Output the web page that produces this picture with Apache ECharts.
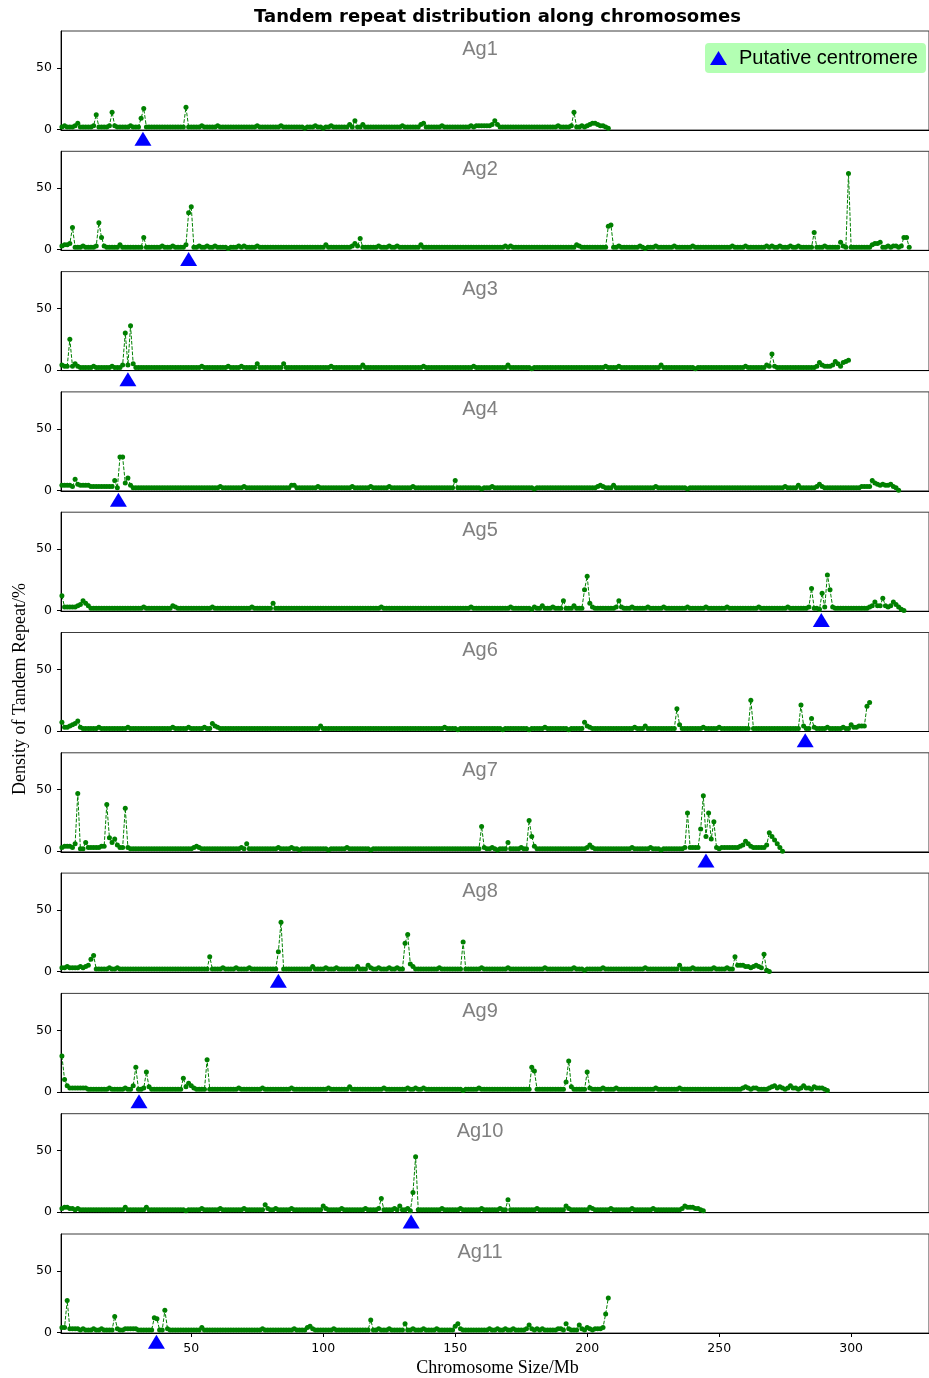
<!DOCTYPE html>
<html>
<head>
<meta charset="utf-8">
<title>Tandem repeat distribution along chromosomes</title>
<script src="https://cdn.jsdelivr.net/npm/echarts@6/dist/echarts.min.js"></script>
<style>
  html, body { margin: 0; padding: 0; background: #ffffff; }
  #chart { width: 929px; height: 1378px; }
</style>
</head>
<body>
<div id="chart"></div>
<script>
// Tandem repeat density (%) in 1 Mb bins; bin i sits at (i + 1) Mb.
const chromNames = ['Ag1', 'Ag2', 'Ag3', 'Ag4', 'Ag5', 'Ag6', 'Ag7', 'Ag8', 'Ag9', 'Ag10', 'Ag11'];

const Ag1 = [
  2,3,2,2,2,3,5,2,2,2, 2,2,3,12,2,2,2,2,3,14,
  3,2,2,2,2,2,3,2,2,2, 9,17,2,2,2,2,2,2,2,2,
  2,2,2,2,2,2,2,18,2,2, 2,2,2,3,2,2,2,2,2,3,
  2,2,2,2,2,2,2,2,2,2, 2,2,2,2,3,2,2,2,2,2,
  2,2,2,3,2,2,2,2,2,2, 2,2,1,2,2,2,3,2,2,1,
  2,2,3,2,2,2,2,2,2,4, 2,7,2,2,4,2,2,2,2,2,
  2,2,2,2,2,2,2,2,2,3, 2,2,2,2,2,2,4,5,2,2,
  2,2,2,2,3,2,2,2,2,2, 2,2,2,2,2,3,2,3,3,3,
  3,3,3,4,7,4,2,2,2,2, 2,2,2,2,2,2,2,2,2,2,
  2,2,2,2,2,2,2,2,3,2, 2,2,2,3,14,2,2,3,2,3,
  4,5,5,4,3,3,2,1
];

const Ag2 = [
  3,4,4,5,18,2,2,2,3,2, 2,2,2,3,22,10,3,2,2,2,
  2,2,4,2,2,2,2,2,2,2, 2,10,2,2,2,2,2,2,3,2,
  2,2,3,2,2,2,2,4,30,35, 2,2,3,2,2,3,2,2,3,2,
  2,2,2,1,2,2,2,3,2,3, 2,2,2,2,3,2,2,2,2,2,
  2,2,2,2,2,2,2,2,2,2, 2,2,2,2,2,2,2,2,2,2,
  4,2,2,2,2,2,2,2,2,2, 3,5,3,9,2,2,2,2,2,2,
  3,2,2,2,3,2,2,3,2,2, 2,2,2,2,2,2,4,2,2,2,
  2,2,2,2,2,2,2,2,2,2, 2,2,2,2,2,2,2,2,2,2,
  2,2,2,2,2,2,2,2,3,2, 3,2,2,2,2,2,2,2,2,2,
  2,2,2,2,2,2,2,2,2,2, 2,2,2,2,2,4,3,2,2,2,
  2,2,2,2,2,2,2,19,20,2, 2,3,2,2,2,2,2,2,2,3,
  2,1,2,2,2,3,2,2,2,2, 2,2,3,2,2,2,2,2,2,3,
  2,2,2,2,2,2,2,2,2,2, 2,2,2,2,3,2,2,2,2,3,
  2,2,2,2,2,2,2,3,2,3, 2,2,3,2,2,2,3,2,2,3,
  2,2,2,2,2,14,2,2,2,3, 2,2,2,2,2,6,3,2,62,2,
  2,2,2,2,2,2,2,4,5,5, 6,2,2,3,2,3,3,2,3,10,
  10,2
];

const Ag3 = [
  4,3,3,25,3,5,3,2,2,2, 2,2,3,2,2,2,2,2,2,3,
  2,2,2,4,30,4,36,5,2,2, 2,2,2,2,2,2,2,2,2,2,
  2,2,2,2,2,2,2,2,2,2, 2,2,2,3,2,2,2,2,2,2,
  2,2,2,3,2,2,2,2,3,2, 2,2,2,2,5,2,2,2,2,2,
  2,2,2,2,5,2,2,2,2,2, 2,2,2,2,2,2,2,2,2,2,
  2,2,3,2,2,2,2,2,2,2, 2,2,2,2,4,2,2,2,2,2,
  2,2,2,2,2,2,2,2,2,2, 2,2,2,2,2,2,2,3,2,2,
  2,2,2,2,2,2,2,2,2,2, 2,2,2,2,2,2,3,2,2,2,
  2,2,2,2,2,2,2,2,2,4, 2,2,2,2,2,2,2,2,1,2,
  2,2,2,2,2,2,2,2,2,2, 2,2,2,2,2,2,2,2,2,2,
  2,2,2,2,2,2,3,2,2,2, 2,3,2,2,2,2,2,2,2,2,
  2,2,2,2,2,2,2,4,2,2, 2,2,2,2,2,2,2,2,2,2,
  1,2,2,2,2,2,2,2,2,2, 2,2,2,2,2,2,2,2,2,3,
  2,2,2,2,2,2,2,4,3,13, 3,2,2,2,2,2,2,2,2,2,
  2,2,2,2,2,2,3,6,4,3, 3,3,4,7,5,3,6,7,8
];

const Ag4 = [
  4,4,4,4,3,9,5,4,4,4, 4,3,3,3,3,3,3,3,3,3,
  8,2,27,27,6,10,4,2,2,2, 2,2,2,2,2,2,2,2,2,2,
  2,2,2,2,2,2,2,2,2,2, 2,2,2,2,2,2,2,2,2,2,
  3,2,2,2,2,2,2,2,2,3, 2,2,2,2,2,2,2,2,2,2,
  2,2,2,2,2,2,2,4,4,2, 2,2,2,2,2,2,2,3,2,2,
  2,2,2,2,2,2,2,2,2,2, 3,2,2,2,2,2,2,3,2,2,
  2,2,2,2,3,2,2,2,2,2, 2,2,2,3,2,2,2,2,2,2,
  2,2,2,2,2,2,2,2,2,8, 2,2,2,2,2,2,2,2,2,1,
  2,2,2,3,2,2,2,2,2,2, 2,2,2,2,2,2,2,2,2,1,
  2,2,2,2,2,2,2,2,2,2, 2,2,2,2,2,2,2,2,2,2,
  2,2,2,3,4,3,2,2,2,4, 2,2,2,2,2,2,2,2,2,2,
  2,2,2,2,2,3,2,2,2,2, 2,2,2,2,2,2,2,1,2,2,
  2,2,2,2,2,2,2,2,2,2, 2,2,2,2,2,2,2,2,2,2,
  2,2,2,2,2,2,2,2,2,2, 2,2,2,2,3,2,2,2,2,4,
  2,2,2,2,2,2,3,5,3,2, 2,2,2,2,2,2,2,2,2,2,
  2,2,2,3,3,3,3,8,6,5, 4,5,4,4,5,3,2,0
];

const Ag5 = [
  12,3,3,3,3,3,4,5,8,6, 4,2,2,2,2,2,2,2,2,2,
  2,2,2,2,2,2,2,2,2,2, 2,3,2,2,2,2,2,2,2,2,
  2,2,4,3,2,2,2,2,2,2, 2,2,2,2,2,2,2,3,2,2,
  2,2,2,2,2,2,2,2,2,2, 2,2,3,2,2,2,2,2,2,2,
  6,2,2,2,2,2,2,2,2,2, 2,2,2,2,2,2,2,2,2,2,
  2,2,2,2,2,2,2,2,2,2, 2,2,2,2,2,2,2,2,2,2,
  2,3,2,2,2,2,2,2,2,2, 2,2,2,2,2,2,2,2,2,2,
  2,2,2,2,2,2,2,2,2,2, 2,2,2,2,2,3,2,2,2,2,
  2,2,2,2,2,2,2,2,2,2, 3,2,2,2,2,2,2,2,1,3,
  2,2,4,2,2,2,3,2,2,2, 8,2,2,2,4,2,2,2,17,28,
  6,3,2,2,2,2,2,2,2,2, 3,8,3,2,2,2,3,2,2,2,
  2,2,3,2,2,2,2,2,3,2, 2,2,2,2,2,2,2,3,2,2,
  2,2,2,2,3,2,2,2,2,2, 2,2,3,2,2,2,2,2,2,2,
  2,2,2,2,3,2,2,2,2,2, 2,2,2,2,2,3,2,2,2,2,
  2,2,2,3,18,2,2,1,14,3, 29,17,3,2,2,2,2,2,2,2,
  2,2,2,2,2,2,3,4,7,4, 4,10,4,3,4,7,5,3,1,0
];

const Ag6 = [
  7,3,3,4,5,6,8,3,2,2, 2,2,2,2,3,2,2,2,2,2,
  2,2,2,2,2,3,2,2,2,2, 2,2,2,2,2,2,2,2,2,2,
  2,2,3,2,2,2,2,2,3,2, 2,2,2,2,3,2,2,6,4,3,
  2,2,2,2,2,2,2,2,2,2, 2,2,2,2,2,2,2,2,2,2,
  2,2,2,2,2,2,2,2,2,2, 2,2,2,2,2,2,2,2,4,2,
  2,2,2,2,2,2,2,2,2,2, 2,2,2,2,2,2,2,2,2,2,
  2,2,2,2,2,2,2,2,2,2, 2,2,2,2,2,2,2,2,2,2,
  2,2,2,2,2,3,2,2,2,2, 1,2,2,2,2,2,2,2,2,2,
  2,2,2,2,2,2,2,1,2,2, 2,2,2,2,2,2,2,1,2,2,
  2,2,2,3,2,2,2,2,2,2, 2,2,1,2,2,2,2,2,7,4,
  3,2,2,2,2,2,2,2,2,2, 2,2,2,2,2,2,2,3,2,2,
  2,4,2,2,2,2,2,2,2,2, 2,2,2,18,5,2,2,2,2,2,
  2,2,2,3,2,2,2,2,2,3, 2,2,2,2,2,2,2,2,2,2,
  2,25,2,2,2,2,2,2,2,2, 2,2,2,2,2,2,2,2,2,2,
  21,4,2,2,10,3,2,2,2,2, 3,2,2,2,2,2,3,2,2,5,
  3,3,4,4,4,20,23
];

const Ag7 = [
  3,4,4,4,3,6,47,2,2,7, 3,3,3,3,3,4,4,38,11,7,
  10,5,3,3,35,3,2,2,2,2, 2,2,2,2,2,2,2,2,2,2,
  2,2,2,2,2,2,2,2,2,2, 3,4,3,2,2,2,2,2,2,2,
  2,2,2,2,2,2,2,2,3,2, 6,2,2,2,2,2,2,2,2,2,
  2,2,3,2,2,2,2,3,2,2, 1,2,2,2,2,2,2,2,2,2,
  2,1,2,2,2,2,2,2,3,2, 2,2,2,2,2,2,2,1,2,2,
  2,2,2,2,2,2,2,2,2,2, 2,2,2,2,2,2,2,2,2,2,
  2,2,2,2,2,2,2,2,2,2, 2,2,2,2,2,2,2,2,2,20,
  3,2,2,3,2,1,2,2,2,7, 2,2,2,2,3,2,2,25,12,4,
  2,2,2,2,2,2,2,2,2,2, 2,2,2,2,2,2,2,2,2,3,
  5,3,2,2,2,2,2,2,2,2, 2,2,2,2,2,2,3,2,2,2,
  2,2,2,3,2,2,2,1,2,2, 2,2,2,2,2,2,3,31,3,3,
  3,3,18,45,12,31,10,24,3,2, 3,3,3,3,3,3,3,4,5,8,
  6,4,3,3,3,3,3,5,15,12, 9,6,3,0
];

const Ag8 = [
  3,3,4,3,3,3,3,4,3,4, 5,10,13,2,2,2,2,2,3,2,
  2,3,2,2,2,2,2,2,2,2, 2,2,2,2,2,2,2,2,2,2,
  2,2,2,2,2,2,2,2,2,2, 2,2,2,2,2,2,12,2,2,2,
  2,3,2,2,2,2,3,2,2,2, 2,3,2,2,2,2,2,2,2,2,
  2,2,16,40,2,2,2,2,2,2, 2,2,2,2,2,4,2,2,2,2,
  3,2,2,2,3,2,2,2,2,2, 2,2,4,2,2,2,5,3,2,2,
  3,2,2,2,3,2,2,3,2,2, 23,30,6,4,2,2,2,2,2,2,
  2,2,2,3,2,2,2,2,2,2, 2,2,24,2,2,2,2,2,2,3,
  2,2,2,2,2,2,2,2,2,3, 2,2,2,2,2,2,2,2,2,2,
  2,2,2,3,2,2,2,2,2,2, 2,2,2,2,3,2,2,2,1,2,
  2,2,2,2,2,3,2,2,2,2, 2,2,2,2,2,2,2,2,2,2,
  2,3,2,2,2,2,2,2,2,2, 2,2,2,2,5,2,2,2,2,3,
  2,2,2,2,2,2,2,3,2,2, 2,2,3,2,2,12,5,5,5,4,
  4,3,4,5,4,3,14,1,0
];

const Ag9 = [
  29,10,5,3,3,3,3,3,3,3, 2,2,2,2,2,2,2,2,3,2,
  2,2,2,2,3,2,2,5,20,2, 2,3,16,4,2,2,2,2,2,2,
  2,2,2,2,2,2,11,4,7,5, 3,2,2,2,2,26,2,2,2,2,
  2,2,2,2,2,2,2,3,2,2, 2,2,2,2,2,2,3,2,2,2,
  2,2,2,2,2,2,2,3,2,2, 2,2,2,2,2,2,2,2,2,2,
  2,3,2,2,2,2,2,2,2,4, 2,2,2,2,2,2,2,2,2,2,
  2,2,3,2,2,2,2,2,2,2, 2,3,2,2,3,2,2,3,2,2,
  2,2,2,2,2,2,2,2,2,2, 2,2,1,2,2,2,2,2,3,2,
  2,2,2,2,2,2,2,2,2,2, 2,2,2,2,2,2,2,2,20,17,
  2,2,2,2,2,2,2,2,2,2, 2,8,25,4,2,2,2,2,2,16,
  3,2,2,2,2,3,2,2,2,2, 3,2,2,2,2,2,2,2,2,2,
  2,2,2,2,2,3,2,2,2,2, 2,2,2,2,3,2,2,2,2,2,
  2,2,2,2,2,2,2,2,2,2, 2,2,2,2,2,2,2,2,3,4,
  3,2,3,3,2,2,2,2,3,4, 5,3,4,3,2,3,5,3,3,2,
  3,5,3,3,2,4,3,3,3,2, 1
];

const Ag10 = [
  3,4,4,3,3,2,3,2,2,2, 2,2,2,2,2,2,2,2,2,2,
  2,2,2,2,4,2,2,2,2,2, 2,2,4,2,2,2,2,2,2,2,
  2,2,2,2,2,2,2,1,2,2, 2,2,2,3,2,2,2,2,2,2,
  3,2,2,2,2,2,2,2,2,3, 2,2,2,2,2,2,2,6,3,2,
  2,3,2,2,2,2,2,3,2,2, 2,2,2,2,2,2,2,2,2,5,
  3,2,2,2,2,2,3,2,2,2, 2,2,2,2,2,3,2,2,2,2,
  3,11,2,2,2,2,3,2,5,2, 2,3,1,16,45,2,2,2,2,2,
  2,2,2,2,3,2,2,2,2,2, 2,3,2,2,2,2,2,2,2,3,
  2,2,2,2,2,2,3,2,2,10, 2,2,2,2,2,2,2,2,2,2,
  3,2,2,2,2,2,2,2,2,2, 2,5,3,2,2,2,2,2,2,2,
  4,3,2,2,2,2,2,2,3,2, 2,2,2,2,2,2,3,2,2,2,
  2,2,2,2,3,2,2,2,2,2, 2,2,2,2,2,3,5,4,4,4,
  3,3,2,1
];

const Ag11 = [
  4,4,26,3,3,3,3,2,3,2, 2,2,3,2,2,3,2,2,2,2,
  13,3,2,2,3,3,3,3,3,2, 2,2,2,2,2,12,11,2,2,18,
  3,2,2,2,2,2,2,2,2,2, 2,2,2,4,2,2,2,2,2,2,
  2,2,2,2,2,2,2,2,2,2, 2,2,2,2,2,2,3,2,2,2,
  2,2,2,2,2,2,2,2,3,2, 2,2,2,4,5,3,2,2,2,2,
  2,2,2,3,2,2,2,2,2,2, 2,2,2,2,2,2,2,10,2,2,
  3,2,2,2,3,2,2,2,2,2, 7,2,2,3,2,2,2,3,2,2,
  2,2,3,2,2,2,2,2,2,5, 7,3,2,2,2,2,2,2,2,2,
  2,2,3,2,2,3,2,2,3,2, 2,3,2,2,2,2,3,6,3,2,
  3,2,3,2,2,2,2,2,3,3, 2,7,3,2,2,2,6,3,2,4,
  3,2,3,3,3,4,15,28
];

const densities = [Ag1, Ag2, Ag3, Ag4, Ag5, Ag6, Ag7, Ag8, Ag9, Ag10, Ag11];

// Putative centromere position (Mb) on each chromosome
const centromeres = [31.7, 49, 26, 22.4, 288.7, 282.6, 245, 83, 30.2, 133.3, 36.8];

const xTicks = [50, 100, 150, 200, 250, 300];
const yTicks = [0, 50];

// ---- layout ----
const PANEL_TOP = 31;
const PANEL_STEP = 120.3;
const PANEL_H = 99;
const X_MIN = 0.65, X_MAX = 329.5;
const Y_MIN = -0.5, Y_MAX = 80;
const MARKER_Y = -7.6;   // centromere triangles sit just under each baseline
const GREEN = '#008000';
const BLUE = '#0000ff';

const n = chromNames.length;
const grids = [], xAxes = [], yAxes = [], series = [], graphics = [];

for (let k = 0; k < n; k++) {
  const top = PANEL_TOP + PANEL_STEP * k;
  const last = k === n - 1;
  grids.push({
    left: 61, right: -5, top: top, height: PANEL_H,
    show: true, borderColor: '#3c3c3c', borderWidth: 1, backgroundColor: 'transparent'
  });
  xAxes.push({
    type: 'value', gridIndex: k, min: X_MIN, max: X_MAX,
    axisLine: { show: true, onZero: false, lineStyle: { color: '#000', width: 1 } },
    axisTick: { show: last, length: 4, customValues: xTicks, lineStyle: { color: '#000' } },
    axisLabel: {
      show: last, customValues: xTicks, margin: 9,
      fontFamily: 'DejaVu Sans', fontSize: 12.5, color: '#000'
    },
    splitLine: { show: false }
  });
  yAxes.push({
    type: 'value', gridIndex: k, min: Y_MIN, max: Y_MAX,
    axisLine: { show: true, lineStyle: { color: '#000', width: 1 } },
    axisTick: { show: true, length: 4, customValues: yTicks, lineStyle: { color: '#000' } },
    axisLabel: {
      show: true, customValues: yTicks, margin: 9,
      fontFamily: 'DejaVu Sans', fontSize: 12.5, color: '#000'
    },
    splitLine: { show: false }
  });
  series.push({
    name: chromNames[k],
    type: 'line',
    xAxisIndex: k, yAxisIndex: k,
    data: densities[k].map((v, i) => [i + 1, v]),
    symbol: 'circle', symbolSize: 5, showSymbol: true, showAllSymbol: true,
    itemStyle: { color: GREEN, opacity: 1 },
    lineStyle: { color: GREEN, width: 1, type: [3.7, 1.6] },
    emphasis: { disabled: true },
    animation: false, z: 2
  });
  series.push({
    name: 'Putative centromere',
    type: 'scatter',
    xAxisIndex: k, yAxisIndex: k,
    data: [[centromeres[k], MARKER_Y]],
    symbol: 'triangle', symbolSize: [17, 14],
    itemStyle: { color: BLUE, opacity: 1 },
    emphasis: { disabled: true },
    clip: false, animation: false, z: 5
  });
  graphics.push({
    type: 'text', x: 480, y: top + 18, silent: true,
    style: {
      text: chromNames[k], fill: '#808080',
      font: '20px "Liberation Sans", Arial, sans-serif',
      textAlign: 'center', textVerticalAlign: 'middle'
    }
  });
}

graphics.push({
  type: 'text', x: 497.5, y: 17, silent: true,
  style: {
    text: 'Tandem repeat distribution along chromosomes', fill: '#000',
    font: 'bold 18px "DejaVu Sans", sans-serif',
    textAlign: 'center', textVerticalAlign: 'middle'
  }
});
graphics.push({
  type: 'text', x: 497.5, y: 1368, silent: true,
  style: {
    text: 'Chromosome Size/Mb', fill: '#000',
    font: '18px "Liberation Serif", "Times New Roman", serif',
    textAlign: 'center', textVerticalAlign: 'middle'
  }
});
graphics.push({
  type: 'text', x: 20, y: 689, rotation: Math.PI / 2, silent: true,
  style: {
    text: 'Density of Tandem Repeat/%', fill: '#000',
    font: '18px "Liberation Serif", "Times New Roman", serif',
    textAlign: 'center', textVerticalAlign: 'middle'
  }
});

const chart = echarts.init(document.getElementById('chart'), null, { renderer: 'canvas' });
chart.setOption({
  backgroundColor: '#ffffff',
  animation: false,
  grid: grids,
  xAxis: xAxes,
  yAxis: yAxes,
  series: series,
  legend: {
    data: [{ name: 'Putative centromere', icon: 'triangle', itemStyle: { color: BLUE, opacity: 1 } }],
    left: 705, top: 43,
    itemWidth: 17, itemHeight: 14,
    backgroundColor: '#b3ffb3', borderRadius: 4,
    padding: [5, 8, 5, 5],
    selectedMode: false,
    textStyle: {
      fontFamily: 'Liberation Sans', fontSize: 20, color: '#000',
      padding: [0, 0, 0, 7]
    }
  },
  graphic: graphics
});
</script>
</body>
</html>
